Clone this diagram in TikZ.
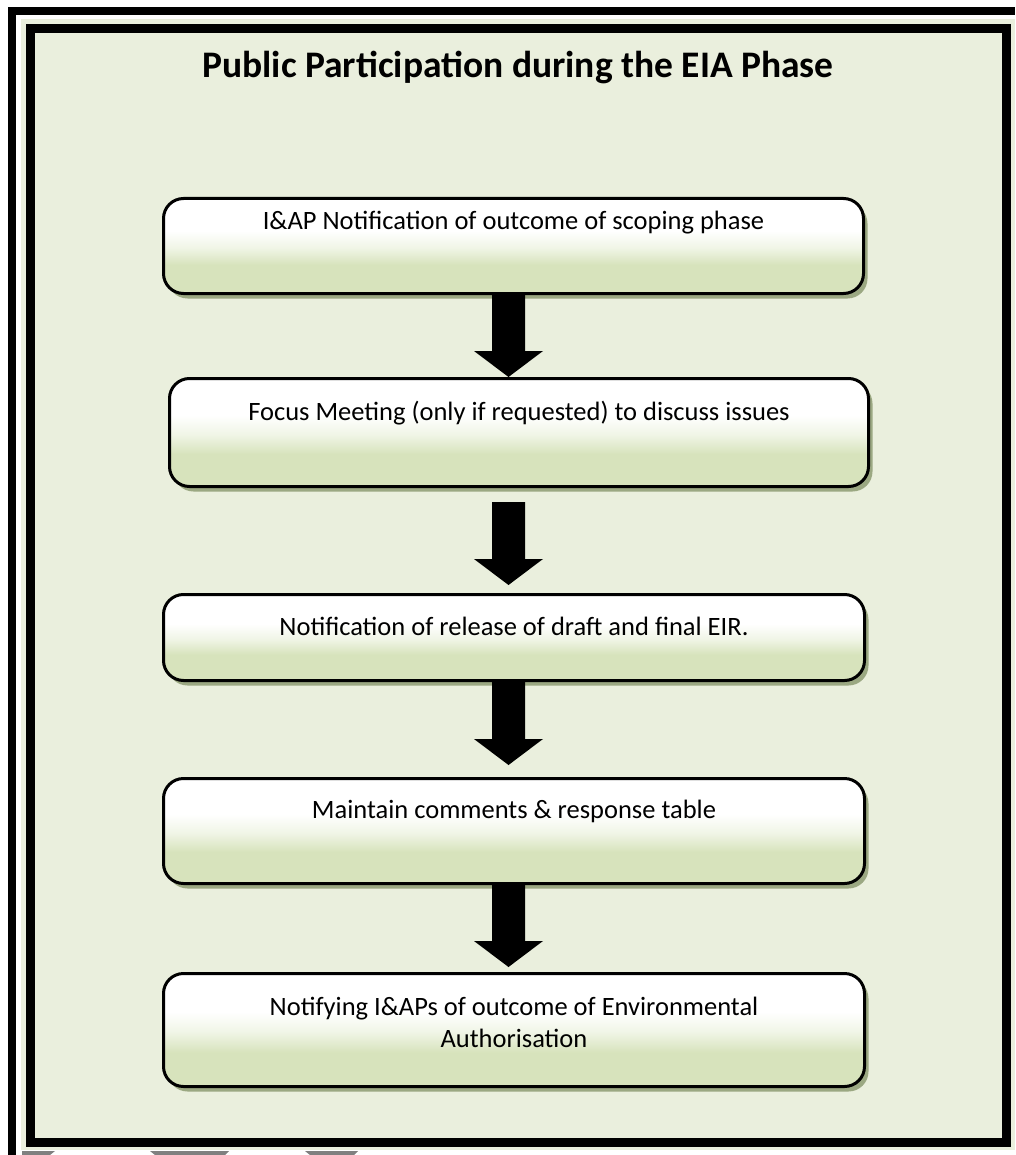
\documentclass[tikz,border=0pt]{standalone}
\usepackage{fontspec}
\setmainfont{Carlito}
\usetikzlibrary{calc,shadows}
\definecolor{panelgreen}{RGB}{234,239,221}
\definecolor{boxgreen}{RGB}{215,227,188}
\definecolor{boxpale}{RGB}{240,245,230}
\definecolor{shadowgreen}{RGB}{155,168,130}
\definecolor{tabgrey}{RGB}{128,128,128}
\pgfdeclareverticalshading{boxfade}{100bp}{color(0bp)=(boxgreen); color(40bp)=(boxgreen); color(49bp)=(boxpale); color(58bp)=(white); color(100bp)=(white)}
\tikzset{
  stepbox/.style={draw, line width=3pt, rounded corners=20pt, shade, shading=boxfade, inner sep=0pt,
    drop shadow={shadow xshift=4pt, shadow yshift=-5pt, fill=shadowgreen, opacity=1}},
  steptext/.style={font=\fontsize{26.5}{32}\selectfont, align=center, anchor=base},
}
\begin{document}
\begin{tikzpicture}[x=1pt,y=-1pt]
\useasboundingbox (0,0) rectangle (1015,1155);
\fill[white] (0,0) rectangle (1015,1155);
% page frame
\draw[line width=8pt] (12,1155) -- (12,11) -- (1015,11);
\fill[panelgreen] (21,19) rectangle (1015,1150);
\draw[line width=9pt] (30,28.5) rectangle (1006,1142);
\fill[tabgrey] (22,1151) -- (55,1151) -- (50,1155) -- (22,1155) -- cycle;
\fill[tabgrey] (150,1151) -- (229,1151) -- (225,1155) -- (155,1155) -- cycle;
\fill[tabgrey] (305,1151) -- (358,1151) -- (354,1155) -- (310,1155) -- cycle;
\node[font=\fontsize{37.5}{42}\selectfont\bfseries, anchor=base] (title) at (518,78) {Public Participation during the EIA Phase};
% steps
\node[stepbox, minimum width=700pt, minimum height=95pt] (b1) at (513.5,246) {};
\node[stepbox, minimum width=699pt, minimum height=108pt] (b2) at (519,432.5) {};
\node[stepbox, minimum width=701pt, minimum height=86pt] (b3) at (514,637.5) {};
\node[stepbox, minimum width=701pt, minimum height=105pt] (b4) at (514,831) {};
\node[stepbox, minimum width=701pt, minimum height=113pt] (b5) at (514,1030) {};
\node[steptext] (t1) at ([yshift=-33pt]b1.north) {I\&AP Notification of outcome of scoping phase};
\node[steptext] (t2) at ([yshift=-43pt]b2.north) {Focus Meeting (only if requested) to discuss issues};
\node[steptext] (t3) at ([yshift=-42pt]b3.north) {Notification of release of draft and final EIR.};
\node[steptext] (t4) at ([yshift=-41pt]b4.north) {Maintain comments \& response table};
\node[steptext] (t5) at ([yshift=-75pt]b5.north) {Notifying I\&APs of outcome of Environmental\\Authorisation};
% block arrows
\coordinate (ax) at (508.5,0);
\foreach \a/\b/\s/\e in {b1/b2/0/0,b2/b3/14/8,b3/b4/0/12,b4/b5/0/5}{
  \fill ($(\a.south -| ax)+(-16.5,\s)$) -- ($(\b.north -| ax)+(-16.5,-\e-26)$) -- ++(-18,0)
    -- ($(\b.north -| ax)+(0,-\e)$) -- ($(\b.north -| ax)+(34.5,-\e-26)$) -- ++(-18,0)
    -- ($(\a.south -| ax)+(16.5,\s)$) -- cycle;
}
\end{tikzpicture}
\end{document}
